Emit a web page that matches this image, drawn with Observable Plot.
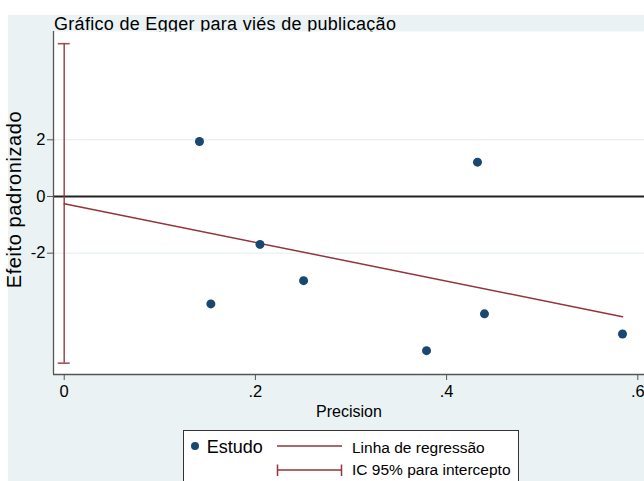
<!DOCTYPE html>
<html><head><meta charset="utf-8">
<script src="https://cdn.jsdelivr.net/npm/d3@7"></script>
<script src="https://cdn.jsdelivr.net/npm/@observablehq/plot@0.6"></script>
<style>
body{margin:0;background:#fff;}
#wrap{position:relative;width:644px;height:481px;overflow:hidden;background:#fff;font-family:"Liberation Sans",Arial,sans-serif;}
#bg{position:absolute;left:8px;top:15px;right:0;bottom:0;background:#eaf2f3;}
#title{position:absolute;left:54px;top:15px;font-size:18px;line-height:18px;color:#000;white-space:nowrap;letter-spacing:0.3px;}
#plot{position:absolute;left:0;top:31px;}
#legend{position:absolute;left:183px;top:430px;}
.ytitle{letter-spacing:0.6px;}
</style></head><body>
<div id="wrap"><div id="bg"></div><div id="title"></div><div id="plot"></div><svg id="legend" width="336" height="60"></svg></div>
<script>
const titleText = "Gráfico de Egger para viés de publicação";
const xLabel = "Precision";
const yLabel = "Efeito padronizado";

// Study points
const precision = [0.1415, 0.4323, 0.2048, 0.1534, 0.2504, 0.379, 0.4396, 0.584];
const stdEffect = [1.94, 1.21, -1.69, -3.79, -2.97, -5.44, -4.14, -4.85];

// Regression line endpoints
const regPrecision = [0, 0.584];
const regEffect = [-0.26, -4.24];

// 95% CI for intercept
const ciLower = -5.88;
const ciUpper = 5.39;

// Ticks
const xTicks = [0, 0.2, 0.4, 0.6];
const xTickLabels = ["0", ".2", ".4", ".6"];
const yTicks = [2, 0, -2];
const yTickLabels = ["2", "0", "-2"];

const legendLabels = ["Estudo", "Linha de regressão", "IC 95% para intercepto"];

const navy = "#1a476f";
const maroon = "#90353b";

const points = precision.map((p, i) => ({p, e: stdEffect[i]}));
const reg = regPrecision.map((p, i) => ({p, e: regEffect[i]}));
const ci = [{p: 0, lo: ciLower, hi: ciUpper}];

const xDomain = [-0.0112, 0.607];
const yDomain = [-6.28, 5.82];

document.getElementById("title").textContent = titleText;

const chart = Plot.plot({
  width: 644,
  height: 390,
  marginLeft: 53,
  marginRight: 0,
  marginTop: 0,
  marginBottom: 47,
  style: {background: "transparent", color: "#000", fontFamily: "'Liberation Sans', Arial, sans-serif", overflow: "visible"},
  x: {domain: xDomain},
  y: {domain: yDomain},
  marks: [
    Plot.frame({fill: "white", stroke: null}),
    Plot.ruleY(yTicks.filter(d => d !== 0), {stroke: "#e3ecee", strokeWidth: 1}),
    Plot.ruleY([0], {stroke: "#222", strokeWidth: 2}),
    Plot.ruleX([xDomain[0]], {stroke: "#555", strokeWidth: 1.3}),
    Plot.ruleY([yDomain[0]], {stroke: "#555", strokeWidth: 1.3}),
    Plot.ruleX(ci, {x: "p", y1: "lo", y2: "hi", stroke: maroon, strokeWidth: 1.6, strokeOpacity: 0.85}),
    Plot.ruleY(ci, {y: "lo", x1: "p", x2: "p", insetLeft: -6, insetRight: -6, stroke: maroon, strokeWidth: 1.6, strokeOpacity: 0.85}),
    Plot.ruleY(ci, {y: "hi", x1: "p", x2: "p", insetLeft: -6, insetRight: -6, stroke: maroon, strokeWidth: 1.6, strokeOpacity: 0.85}),
    Plot.line(reg, {x: "p", y: "e", stroke: maroon, strokeWidth: 1.5}),
    Plot.dot(points, {x: "p", y: "e", r: 4.5, fill: navy, stroke: null}),
    Plot.axisX({ticks: xTicks, tickFormat: d => xTickLabels[xTicks.indexOf(d)], tickSize: 6, tickPadding: 5, fontSize: 16.5, stroke: "#555", label: null}),
    Plot.axisY({ticks: yTicks, tickFormat: d => yTickLabels[yTicks.indexOf(d)], tickSize: 6, tickPadding: 2, fontSize: 16.5, stroke: "#555", label: null}),
    Plot.text([xLabel], {frameAnchor: "bottom", dy: 42, lineAnchor: "bottom", fontSize: 16, fill: "#000"}),
    Plot.text([yLabel], {frameAnchor: "left", textAnchor: "middle", dx: -38.6, dy: -3.5, rotate: -90, fontSize: 20, fill: "#000", className: "ytitle"})
  ]
});
document.getElementById("plot").appendChild(chart);

// Legend
const lg = d3.select("#legend");
lg.append("rect").attr("x", 0.5).attr("y", 0.5).attr("width", 335).attr("height", 70)
  .attr("fill", "white").attr("stroke", "#333").attr("stroke-width", 1);
lg.append("circle").attr("cx", 12).attr("cy", 16).attr("r", 4).attr("fill", navy);
lg.append("text").attr("x", 23.7).attr("y", 22.6).attr("font-size", 18).text(legendLabels[0]);
lg.append("line").attr("x1", 94).attr("x2", 159).attr("y1", 16).attr("y2", 16).attr("stroke", maroon).attr("stroke-width", 1.5);
lg.append("text").attr("x", 169).attr("y", 22.6).attr("font-size", 15.5).text(legendLabels[1]);
lg.append("line").attr("x1", 94).attr("x2", 159).attr("y1", 40).attr("y2", 40).attr("stroke", maroon).attr("stroke-width", 1.5);
lg.append("line").attr("x1", 94.5).attr("x2", 94.5).attr("y1", 34.5).attr("y2", 46).attr("stroke", maroon).attr("stroke-width", 1.5);
lg.append("line").attr("x1", 158.5).attr("x2", 158.5).attr("y1", 34.5).attr("y2", 46).attr("stroke", maroon).attr("stroke-width", 1.5);
lg.append("text").attr("x", 169).attr("y", 45).attr("font-size", 15.5).text(legendLabels[2]);
lg.selectAll("text").attr("font-family", "'Liberation Sans', Arial, sans-serif").attr("fill", "#000");
</script>
</body></html>
